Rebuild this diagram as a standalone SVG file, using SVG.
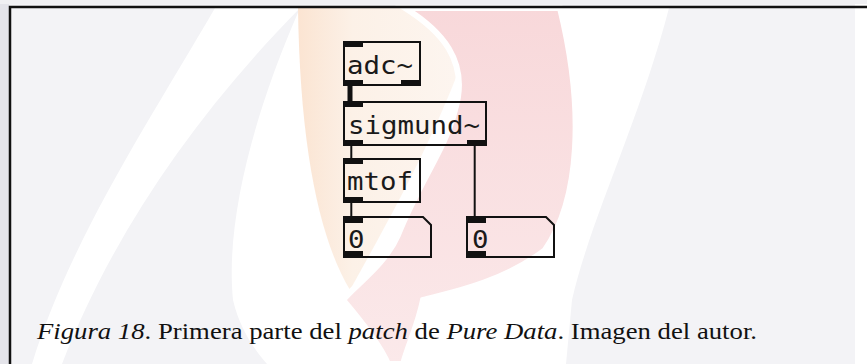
<svg xmlns="http://www.w3.org/2000/svg" width="867" height="364" viewBox="0 0 867 364">
  <style>
    .box { fill: none; stroke: #111111; stroke-width: 2; }
    .port { fill: #111111; }
    .lbl { font-family: "DejaVu Sans Mono", monospace; font-size: 24px; fill: #1a1a1a; }
    .ctl { stroke: #111111; stroke-width: 2; fill: none; }
    .sig { stroke: #111111; stroke-width: 5; fill: none; }
    .cap { font-family: "Liberation Serif", "Times New Roman", serif; font-size: 23px; fill: #111111; }
    .it { font-style: italic; }
  </style>
  <defs>
    <linearGradient id="peach" x1="0" y1="0" x2="1" y2="0">
      <stop offset="0" stop-color="#fbe4d2"/>
      <stop offset="0.3" stop-color="#fcf1e7"/>
      <stop offset="1" stop-color="#fdf6f1"/>
    </linearGradient>
    <linearGradient id="pink" x1="0" y1="0" x2="0" y2="1">
      <stop offset="0" stop-color="#f8d8da"/>
      <stop offset="1" stop-color="#fbe9ea"/>
    </linearGradient>
  </defs>

  <g id="background">
    <rect x="0" y="0" width="867" height="364" fill="#f3f3f6"/>
    <rect x="0" y="0" width="9" height="364" fill="#e4e4ea"/>
    <rect x="855" y="0" width="12" height="364" fill="#ffffff"/>
    <path d="M215,8 C150,120 70,240 32,364 L62,364 C110,240 190,120 300,8 Z" fill="#ffffff"/>
    <path d="M300,8 C255,110 225,220 233,300 C240,330 255,350 267,364 L566,364 L572,300 C590,220 640,120 669,8 Z" fill="#ffffff"/>
    <path d="M298,8 L480,8 C450,110 400,200 350,290 C320,240 300,150 298,8 Z" fill="url(#peach)"/>
    <path d="M405,8 L560,8 C585,110 580,200 545,250 C500,285 440,295 423,300 C418,325 408,345 403,364 L388,364 C380,345 360,320 343,300 C355,285 385,265 398,235 C420,180 445,150 455,110 C470,60 440,30 405,8 Z" fill="url(#pink)" stroke="#ffffff" stroke-width="6"/>
    <rect x="0" y="0" width="867" height="4" fill="#f0f0f3"/>
    <path d="M10,364 V7 H867" fill="none" stroke="#111111" stroke-width="2.5"/>
  </g>

  <g id="connectors">
    <line class="sig" x1="350" y1="86" x2="350" y2="101"/>
    <line class="ctl" x1="351.3" y1="146" x2="351.3" y2="158"/>
    <line class="ctl" x1="351.3" y1="203" x2="351.3" y2="216"/>
    <line class="ctl" x1="474.7" y1="146" x2="474.7" y2="216"/>
  </g>

  <g id="adc">
    <rect class="box" x="344" y="42" width="76" height="43"/>
    <rect class="port" x="343" y="41" width="20" height="6"/>
    <rect class="port" x="343" y="80" width="20" height="6"/>
    <rect class="port" x="401" y="80" width="20" height="6"/>
    <text class="lbl" x="347" y="73.5" textLength="66" lengthAdjust="spacingAndGlyphs">adc~</text>
  </g>

  <g id="sigmund">
    <rect class="box" x="344" y="102" width="142" height="43"/>
    <rect class="port" x="343" y="101" width="20" height="6"/>
    <rect class="port" x="343" y="140" width="20" height="6"/>
    <rect class="port" x="467" y="140" width="20" height="6"/>
    <text class="lbl" x="348" y="133.5" textLength="132" lengthAdjust="spacingAndGlyphs">sigmund~</text>
  </g>

  <g id="mtof">
    <rect class="box" x="344" y="159" width="76" height="43"/>
    <rect class="port" x="343" y="158" width="20" height="6"/>
    <rect class="port" x="343" y="197" width="20" height="6"/>
    <text class="lbl" x="347" y="190" textLength="66" lengthAdjust="spacingAndGlyphs">mtof</text>
  </g>

  <g id="number1">
    <path class="box" d="M344,217 H423 L431,225 V257 H344 Z"/>
    <rect class="port" x="343" y="216" width="20" height="7"/>
    <rect class="port" x="343" y="251" width="20" height="7"/>
    <text class="lbl" x="348" y="248" textLength="16.5" lengthAdjust="spacingAndGlyphs">0</text>
  </g>

  <g id="number2">
    <path class="box" d="M467,217 H546 L554,225 V257 H467 Z"/>
    <rect class="port" x="466" y="216" width="20" height="7"/>
    <rect class="port" x="466" y="251" width="20" height="7"/>
    <text class="lbl" x="472" y="248" textLength="16.5" lengthAdjust="spacingAndGlyphs">0</text>
  </g>

  <g id="caption">
    <text class="cap" x="37" y="339" textLength="720" lengthAdjust="spacingAndGlyphs"><tspan class="it">Figura 18</tspan>. Primera parte del <tspan class="it">patch</tspan> de <tspan class="it">Pure Data</tspan>. Imagen del autor.</text>
  </g>
</svg>
